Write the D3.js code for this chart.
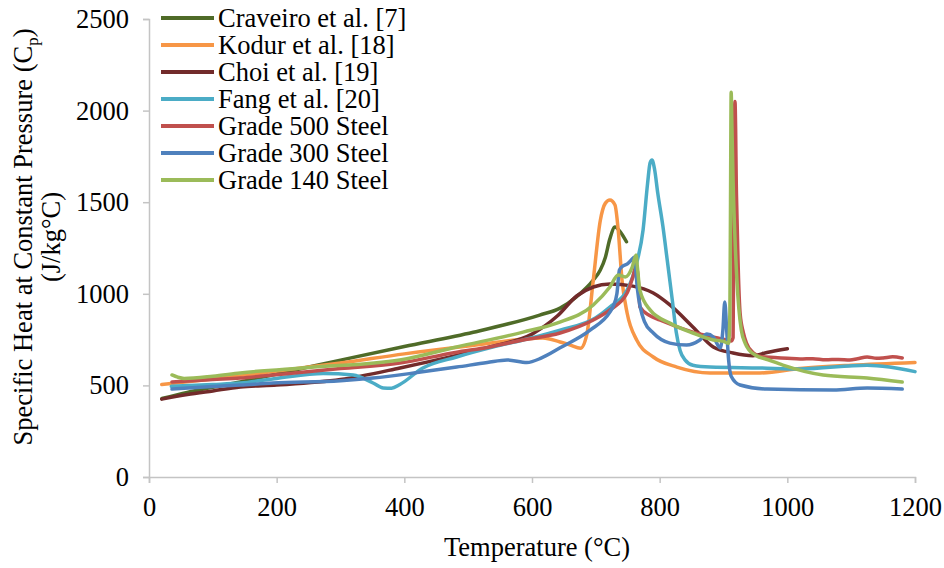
<!DOCTYPE html>
<html>
<head>
<meta charset="utf-8">
<script src="https://cdn.jsdelivr.net/npm/d3@7"></script>
<style>
  html, body { margin: 0; padding: 0; background: #fff; }
  svg { display: block; }
  text { font-family: "Liberation Serif", "Times New Roman", serif; fill: #000; }
</style>
</head>
<body>
<svg id="chart" width="944" height="568"></svg>
<script>
// ---- Data (Temperature °C, Specific heat J/kg°C) ----
const seriesNames = ["Craveiro et al. [7]", "Kodur et al. [18]", "Choi et al. [19]", "Fang et al. [20]",
                     "Grade 500 Steel", "Grade 300 Steel", "Grade 140 Steel"];
const seriesColors = ["#4f6b28", "#f79646", "#722b2b", "#4bacc6", "#c0504d", "#4f81bd", "#9bbb59"];

const craveiro = [[20,428],[60,462],[100,490],[143,519],[200,562],[300,638],[400,712],[508,790],[612,884],
  [644,922],[670,985],[696,1075],[707,1130],[715,1200],[722,1300],[730,1364],[738,1340],[748,1284]];

const kodur = [[20,505],[100,535],[143,551],[200,578],[300,622],[400,672],[500,715],[617,759],[644,737],
  [660,720],[676,703],[686,780],[696,1075],[707,1400],[715,1495],[722,1512],[730,1485],[735,1350],
  [741,1075],[749,895],[764,748],[790,655],[827,600],[879,568],[957,568],[1020,592],[1100,610],[1200,625]];

const choi = [[20,425],[60,450],[100,470],[143,491],[200,502],[300,532],[393,595],[534,710],[600,780],
  [640,880],[670,988],[696,1037],[722,1053],[758,1042],[790,1004],[816,939],[852,819],[884,710],
  [915,677],[946,662],[968,680],[1000,700]];

const fang = [[35,495],[100,505],[143,513],[200,538],[273,565],[320,557],[351,513],[367,486],[380,485],
  [393,505],[429,595],[482,655],[540,710],[586,748],[644,802],[700,870],[722,928],[749,1020],[764,1168],
  [774,1348],[781,1600],[785,1715],[788,1730],[792,1680],[797,1550],[805,1370],[812,1180],[820,960],
  [826,790],[832,690],[840,638],[852,610],[879,600],[957,595],[1020,590],[1125,610],[1160,600],[1200,575]];

const grade500 = [[36,519],[100,532],[143,540],[194,557],[300,592],[393,622],[480,680],[534,710],[586,748],
  [644,786],[696,857],[722,912],[749,1004],[758,1092],[763,1150],[766,1100],[769,928],[785,880],[800,857],
  [852,791],[905,748],[912,742],[915,760],[916,1300],[917,1900],[918,2050],[919,1900],[920,1600],[921,1440],
  [923,1150],[926,894],[931,790],[936,731],[946,680],[960,656],[980,652],[1000,648],[1020,644],[1040,646],
  [1060,640],[1080,642],[1098,639],[1110,646],[1125,655],[1140,648],[1150,650],[1165,656],[1180,650]];

const grade300 = [[36,480],[100,494],[143,502],[194,513],[300,525],[351,540],[420,570],[482,600],[530,625],
  [561,639],[592,625],[615,650],[644,705],[691,802],[722,900],[727,930],[733,1000],[737,1130],[742,1150],
  [750,1165],[757,1190],[760,1200],[762,1150],[765,1030],[770,920],[776,850],[790,786],[816,731],[842,720],
  [863,748],[874,780],[884,764],[895,704],[899,800],[902,955],[905,800],[908,640],[912,550],[926,502],
  [968,480],[1072,475],[1125,486],[1180,480]];

const grade140 = [[36,557],[45,545],[55,538],[100,550],[143,568],[250,598],[393,639],[482,710],[586,791],
  [639,840],[696,939],[722,1037],[735,1103],[746,1092],[757,1146],[763,1212],[765,1150],[769,1020],
  [785,912],[816,840],[852,786],[884,748],[900,740],[908,730],[910,900],[911,1500],[912,2100],[913,1950],
  [915,1620],[918,1300],[921,1075],[924,920],[928,800],[934,730],[940,693],[950,665],[970,640],[993,611],
  [1056,557],[1125,540],[1180,518]];

const seriesData = [craveiro, kodur, choi, fang, grade500, grade300, grade140];

const xTicks = [0, 200, 400, 600, 800, 1000, 1200];
const yTicks = [0, 500, 1000, 1500, 2000, 2500];

// ---- Layout ----
const svg = d3.select("#chart");
const FONT = 26.5;
const plotLeft = 149, plotRight = 915, plotTop = 19, plotBottom = 477;

const x = d3.scaleLinear().domain([0, 1200]).range([plotLeft, plotRight]);
const y = d3.scaleLinear().domain([0, 2500]).range([plotBottom, plotTop]);

const axisColor = "#c4c4c4";

// Y axis
const gy = svg.append("g").attr("transform", `translate(${plotLeft},0)`)
  .call(d3.axisLeft(y).tickValues(yTicks).tickSize(6).tickPadding(14).tickFormat(d3.format("d")));
// X axis
const gx = svg.append("g").attr("transform", `translate(0,${plotBottom})`)
  .call(d3.axisBottom(x).tickValues(xTicks).tickSize(6).tickPadding(14).tickFormat(d3.format("d")));

[gx, gy].forEach(g => {
  g.select(".domain").attr("stroke", axisColor).attr("stroke-width", 1.5);
  g.selectAll(".tick line").attr("stroke", axisColor).attr("stroke-width", 1.5);
  g.selectAll(".tick text").attr("font-size", FONT).attr("font-family", "Liberation Serif, Times New Roman, serif").attr("fill", "#000");
});

// Lines
const line = d3.line().x(d => x(d[0])).y(d => y(d[1])).curve(d3.curveMonotoneX);
seriesData.forEach((data, i) => {
  svg.append("path").datum(data)
    .attr("fill", "none")
    .attr("stroke", seriesColors[i])
    .attr("stroke-width", 3.5)
    .attr("stroke-linejoin", "round")
    .attr("stroke-linecap", "round")
    .attr("d", line);
});

// Axis titles
svg.append("text").attr("x", 537).attr("y", 556).attr("text-anchor", "middle")
  .attr("font-size", FONT).text("Temperature (°C)");

const yt = svg.append("text").attr("transform", "translate(32,237) rotate(-90)")
  .attr("text-anchor", "middle").attr("font-size", FONT);
yt.append("tspan").text("Specific Heat at Constant Pressure (C");
yt.append("tspan").attr("font-size", 17).attr("dy", 6).text("p");
yt.append("tspan").attr("dy", -6).text(")");

svg.append("text").attr("transform", "translate(60,237) rotate(-90)")
  .attr("text-anchor", "middle").attr("font-size", FONT).text("(J/kg°C)");

// Legend
const lg = svg.append("g");
seriesNames.forEach((name, i) => {
  const cy = 18 + 27 * i;
  lg.append("line").attr("x1", 161).attr("x2", 214).attr("y1", cy).attr("y2", cy)
    .attr("stroke", seriesColors[i]).attr("stroke-width", 4);
  lg.append("text").attr("x", 218).attr("y", cy + 9).attr("font-size", FONT).text(name);
});
</script>
</body>
</html>
